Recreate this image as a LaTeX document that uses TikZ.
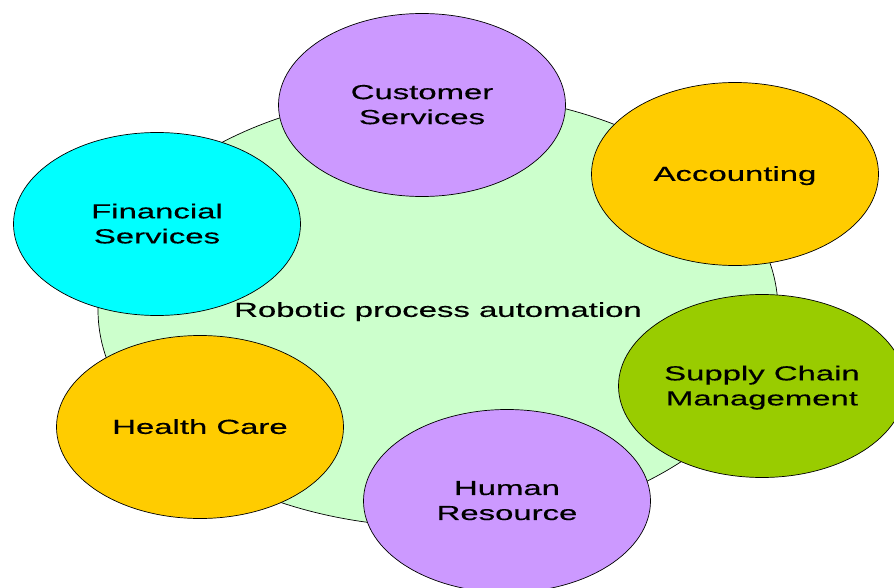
\documentclass[tikz,border=0pt]{standalone}
\usepackage{fontspec}
\newfontfamily\widesans[FakeStretch=1.62,FakeBold=0.4]{Liberation Sans}
\usetikzlibrary{shapes.geometric}
\definecolor{rpaGreen}{HTML}{CCFFCC}
\definecolor{lilac}{HTML}{CC99FF}
\definecolor{amber}{HTML}{FFCC00}
\definecolor{aqua}{HTML}{00FFFF}
\definecolor{olive}{HTML}{99CC00}
\begin{document}
\begin{tikzpicture}[x=1pt,y=-1pt,
  blob/.style={ellipse,draw=black,line width=0.7pt,inner sep=0pt,align=center,
    text depth=1pt,font=\widesans\fontsize{20.3pt}{25pt}\selectfont},
  area/.style={blob,minimum width=287pt,minimum height=183pt}]
\clip (0,0) rectangle (894,588);
\useasboundingbox (0,0) rectangle (894,588);
\node[blob,fill=rpaGreen,minimum width=680pt,minimum height=434pt] (rpa) at (438,310) {Robotic process automation};
\node[area,fill=lilac] (cust) at (422,105) {Customer\\Services};
\node[area,fill=amber] (acc)  at (735,174) {Accounting};
\node[area,fill=aqua]  (fin)  at (157,224) {Financial\\Services};
\node[area,fill=olive] (scm)  at (762,386) {Supply Chain\\Management};
\node[area,fill=amber] (hc)   at (200,427) {Health Care};
\node[area,fill=lilac] (hr)   at (507,501) {Human\\Resource};
\end{tikzpicture}
\end{document}
